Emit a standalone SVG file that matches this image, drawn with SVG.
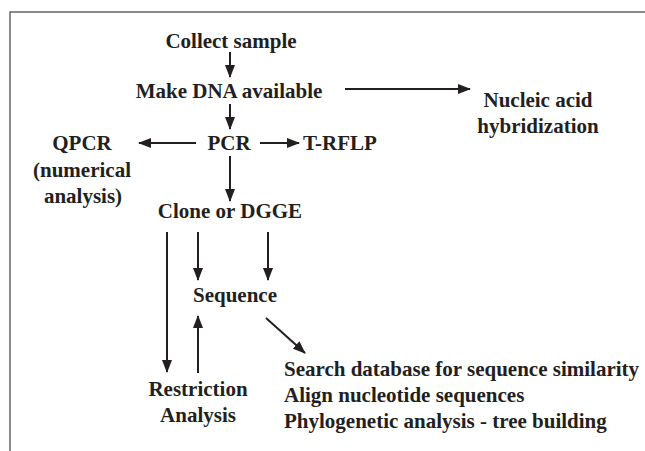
<svg xmlns="http://www.w3.org/2000/svg" width="645" height="451" viewBox="0 0 645 451">
<style>
text{font-family:"Liberation Serif","Times New Roman",serif;font-weight:bold;font-size:21px;fill:#231f20}
.c{text-anchor:middle}
.l{stroke:#231f20;stroke-width:2;fill:none}
.frame{stroke:#666;stroke-width:1.5;fill:none}
</style>
<defs>
<marker id="ah" viewBox="0 0 13 10" refX="12" refY="5" markerWidth="13" markerHeight="10" markerUnits="userSpaceOnUse" orient="auto">
<path d="M0,0 L13,5 L0,10 Z" fill="#231f20"/>
</marker>
</defs>
<rect width="645" height="451" fill="#fff"/>
<path class="frame" d="M10,451 V12 H645"/>
<g id="collect"><text class="c" x="231" y="48">Collect sample</text></g>
<g id="makedna"><text class="c" x="229" y="98">Make DNA available</text></g>
<g id="nucleic"><text class="c" x="538" y="107">Nucleic acid</text><text class="c" x="538" y="133">hybridization</text></g>
<g id="pcr"><text class="c" x="229" y="150">PCR</text></g>
<g id="qpcr"><text class="c" x="82" y="150">QPCR</text><text class="c" x="82" y="177">(numerical</text><text class="c" x="83" y="203">analysis)</text></g>
<g id="trflp"><text x="303" y="150">T-RFLP</text></g>
<g id="clone"><text class="c" x="230" y="218">Clone or DGGE</text></g>
<g id="sequence"><text class="c" x="235" y="302">Sequence</text></g>
<g id="restriction"><text class="c" x="198" y="396">Restriction</text><text class="c" x="198" y="422">Analysis</text></g>
<g id="analysis"><text x="284" y="376">Search database for sequence similarity</text><text x="284" y="402">Align nucleotide sequences</text><text x="284" y="428">Phylogenetic analysis - tree building</text></g>
<g id="connectors">
<line class="l" x1="230" y1="52" x2="230" y2="77" marker-end="url(#ah)"/>
<line class="l" x1="345" y1="89" x2="470" y2="89" marker-end="url(#ah)"/>
<line class="l" x1="230" y1="104" x2="230" y2="129" marker-end="url(#ah)"/>
<line class="l" x1="196" y1="143" x2="139" y2="143" marker-end="url(#ah)"/>
<line class="l" x1="260" y1="143" x2="299" y2="143" marker-end="url(#ah)"/>
<line class="l" x1="230" y1="156" x2="230" y2="201" marker-end="url(#ah)"/>
<line class="l" x1="167" y1="232" x2="167" y2="372" marker-end="url(#ah)"/>
<line class="l" x1="198" y1="232" x2="198" y2="280" marker-end="url(#ah)"/>
<line class="l" x1="268" y1="232" x2="268" y2="280" marker-end="url(#ah)"/>
<line class="l" x1="198" y1="373" x2="198" y2="316" marker-end="url(#ah)"/>
<line class="l" x1="266" y1="318" x2="305" y2="353" marker-end="url(#ah)"/>
</g>
</svg>
